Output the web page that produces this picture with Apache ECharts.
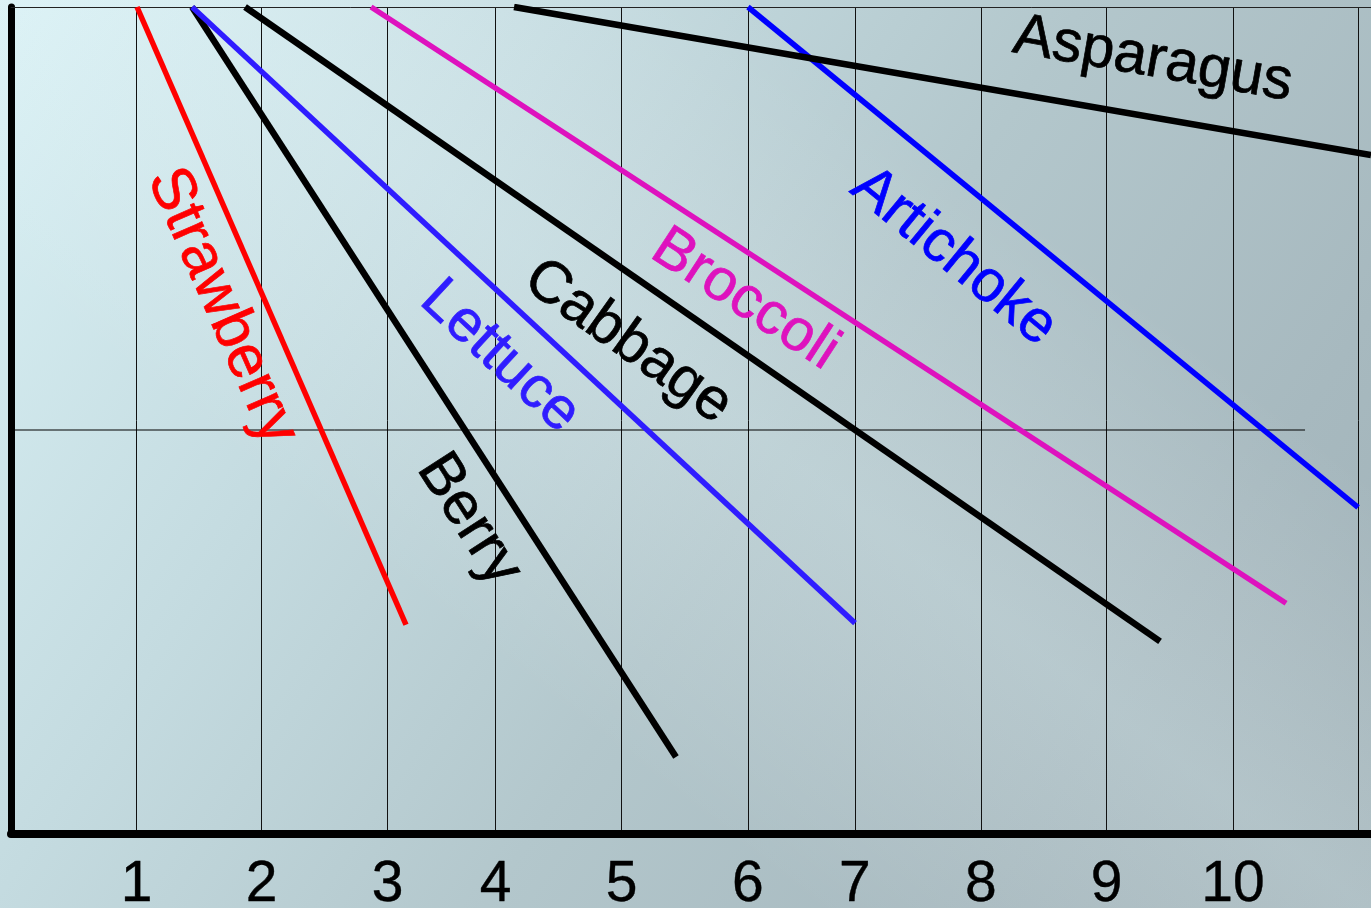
<!DOCTYPE html>
<html>
<head>
<meta charset="utf-8">
<script src="https://cdn.jsdelivr.net/npm/echarts@6/dist/echarts.min.js"></script>
<style>
html,body{margin:0;padding:0;width:1371px;height:908px;overflow:hidden;}
#chart{width:1371px;height:908px;}
</style>
</head>
<body>
<div id="chart"></div>
<script>
// ---- data ----
const xTickPositions = [1, 1.995, 2.998, 3.858, 4.861, 5.865, 6.717, 7.72, 8.72, 9.726, 10.72];
const xTickLabels = ['1', '2', '3', '4', '5', '6', '7', '8', '9', '10'];
const strawberry = [[1.003, 100], [3.144, 25.3]];
const berry      = [[1.441, 100], [5.293, 9.3]];
const lettuce    = [[1.441, 100], [6.718, 25.5]];
const cabbage    = [[1.863, 100], [9.146, 23.3]];
const broccoli   = [[2.866, 100], [10.149, 27.9]];
const artichoke  = [[5.866, 100], [10.722, 39.5]];
const asparagus  = [[4.004, 100], [10.825, 82.1]];
const midLine    = [[0, 48.85], [10.30, 48.85]];
const labelNames   = ['Strawberry', 'Berry', 'Lettuce', 'Cabbage', 'Broccoli', 'Artichoke', 'Asparagus'];
const labelAnchors = [[1.68, 63.8], [3.645, 38.0], [3.892, 57.7], [4.911, 59.5], [5.843, 64.6], [7.505, 69.8], [9.09, 93.6]];

// ---- styles ----
const FONT = '"Liberation Sans", Arial, sans-serif';
const colors = {
  Strawberry: '#ff0000', Berry: '#000000', Lettuce: '#2f1cff', Cabbage: '#000000',
  Broccoli: '#de12be', Artichoke: '#0000ff', Asparagus: '#000000'
};
const labelRotate = {
  Strawberry: -66.4, Berry: -57.2, Lettuce: -42.9, Cabbage: -35.5,
  Broccoli: -33.1, Artichoke: -39.3, Asparagus: -9.9
};
const labelSizes = {Strawberry: 61, Berry: 60, Lettuce: 59, Cabbage: 59, Broccoli: 59, Artichoke: 59, Asparagus: 59};
const lineWidths = {Strawberry: 5.5, Berry: 6.5, Lettuce: 5.5, Cabbage: 6.5, Broccoli: 5.5, Artichoke: 5.5, Asparagus: 6.5};
const seriesData = {Strawberry: strawberry, Berry: berry, Lettuce: lettuce, Cabbage: cabbage,
  Broccoli: broccoli, Artichoke: artichoke, Asparagus: asparagus};

function tickLabelFor(v) {
  let best = 0, bd = Infinity;
  xTickPositions.forEach((p, i) => { const d = Math.abs(p - v); if (d < bd) { bd = d; best = i; } });
  return xTickLabels[best] || '';
}

const chart = echarts.init(document.getElementById('chart'), null, {renderer: 'canvas'});

const series = [];
series.push({
  type: 'line', data: midLine, symbol: 'none', silent: true, z: 1,
  lineStyle: {color: '#000', width: 1, opacity: 1}
});
labelNames.forEach(n => {
  series.push({
    name: n, type: 'line', data: seriesData[n], symbol: 'none', silent: true,
    lineStyle: {color: colors[n], width: lineWidths[n], cap: 'butt', opacity: 1}
  });
});
series.push({
  type: 'scatter', symbolSize: 0, silent: true, z: 5,
  itemStyle: {opacity: 1},
  data: labelNames.map((n, i) => ({
    value: labelAnchors[i], name: n,
    label: {
      show: true, position: 'inside', formatter: n, rotate: labelRotate[n],
      color: colors[n], fontSize: labelSizes[n], fontFamily: FONT, align: 'center', verticalAlign: 'middle',
      textBorderWidth: 0.7, textBorderColor: colors[n], opacity: 1
    }
  }))
});

chart.setOption({
  animation: false,
  backgroundColor: {
    type: 'linear', x: 0, y: 0, x2: 1, y2: 1,
    colorStops: [
      {offset: 0, color: '#d9f1f5'},
      {offset: 0.3, color: '#c4dbe0'},
      {offset: 0.55, color: '#b3c7cc'},
      {offset: 0.8, color: '#a7b9bf'},
      {offset: 1, color: '#a0b1b7'}
    ]
  },
  graphic: [{
    type: 'rect', silent: true, z: -10,
    shape: {x: 0, y: 0, width: 1371, height: 908},
    style: {
      fill: {
        type: 'linear', global: true, x: 440, y: 620, x2: 860, y2: 80,
        colorStops: [
          {offset: 0, color: 'rgba(255,255,255,0)'},
          {offset: 0.5, color: 'rgba(235,250,252,0.22)'},
          {offset: 1, color: 'rgba(255,255,255,0)'}
        ]
      }
    }
  }],
  grid: {left: 11, right: 0, top: 7, bottom: 74, containLabel: false, outerBoundsMode: 'none'},
  xAxis: [{
    type: 'value', min: 0, max: 10.825,
    axisLine: {show: true, onZero: false, lineStyle: {color: '#000', width: 8}},
    axisTick: {show: false, customValues: xTickPositions},
    splitLine: {show: true, lineStyle: {color: '#111', width: 1}},
    axisLabel: {
      customValues: xTickPositions.slice(0, 10),
      formatter: v => tickLabelFor(v),
      fontSize: 57, color: '#000', fontFamily: FONT, margin: 23,
      textBorderWidth: 0.4, textBorderColor: '#000'
    }
  }, {
    type: 'value', min: 0, max: 10.825, position: 'top',
    axisLine: {show: true, onZero: false, lineStyle: {color: '#222', width: 1}},
    axisTick: {show: false}, axisLabel: {show: false}, splitLine: {show: false}
  }],
  yAxis: {
    type: 'value', min: 0, max: 100,
    axisLine: {show: true, onZero: false, lineStyle: {color: '#000', width: 7}},
    axisTick: {show: false}, axisLabel: {show: false}, splitLine: {show: false}
  },
  series: series
});
</script>
</body>
</html>
